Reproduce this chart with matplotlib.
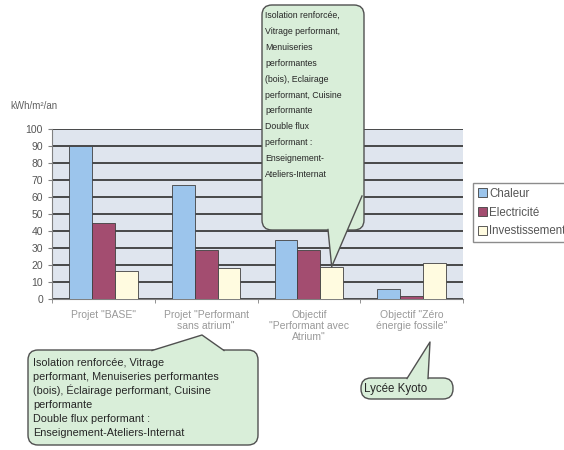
import numpy as np
import matplotlib
matplotlib.use("Agg")
import matplotlib.pyplot as plt
from matplotlib.patches import FancyBboxPatch, Polygon
from matplotlib.lines import Line2D
import matplotlib.transforms as mtransforms

plt.rcParams['font.family'] = ['Liberation Sans', 'DejaVu Sans']

# ---------------- data ----------------
categories = ['Projet "BASE"',
              'Projet "Performant\nsans atrium"',
              'Objectif\n"Performant avec\nAtrium"',
              'Objectif "Zéro\nénergie fossile"']
series_names = ['Chaleur', 'Electricité', 'Investissement']
chaleur = [90, 67, 35, 6]
electricite = [45, 29, 29, 1.5]
investissement = [16.5, 18, 19, 21]
yticks = list(range(0, 101, 10))

colors = ['#9cc5ec', '#a34d70', '#fffbe0']
callout_fc = '#d9eed9'
callout_ec = '#505050'

text_top = ["Isolation renforcée,", "Vitrage performant,", "Menuiseries", "performantes",
            "(bois), Eclairage", "performant, Cuisine", "performante", "Double flux",
            "performant :", "Enseignement-", "Ateliers-Internat"]
text_bottom = ["Isolation renforcée, Vitrage", "performant, Menuiseries performantes",
               "(bois), Éclairage performant, Cuisine", "performante",
               "Double flux performant :", "Enseignement-Ateliers-Internat"]
text_kyoto = ["Lycée Kyoto"]

W, H = 564, 450
fig = plt.figure(figsize=(W / 100, H / 100), dpi=100)
ax = fig.add_axes([52 / W, 1 - 299 / H, (463 - 52) / W, (299 - 129) / H])

# pixel transform (origin top-left, like the picture)
px = mtransforms.Affine2D().scale(1 / 100, -1 / 100).translate(0, H / 100) + fig.dpi_scale_trans

x = np.arange(len(categories))
bw = 0.222
for i, (vals, name) in enumerate(zip([chaleur, electricite, investissement], series_names)):
    ax.bar(x + (i - 1) * bw, vals, bw, color=colors[i], edgecolor='#404040',
           linewidth=0.6, label=name, zorder=3)

ax.set_facecolor('#dfe5ee')
ax.set_xlim(-0.5, 3.5)
ax.set_ylim(0, 100)
ax.set_yticks(yticks)
ax.yaxis.grid(True, color='#3c3c3c', linewidth=1.3, zorder=1)
ax.set_axisbelow(True)
for s in ['top', 'right']:
    ax.spines[s].set_visible(False)
ax.spines['left'].set_color('#808080')
ax.spines['bottom'].set_color('#808080')
ax.tick_params(axis='y', labelsize=7.5, labelcolor='#555555', color='#808080',
               length=3, direction='out')
ax.set_xticks(x)
ax.set_xticklabels(categories, fontsize=7.5, color='#999999', linespacing=1.1)
ax.set_xticks(np.arange(-0.5, 4, 1), minor=True)
ax.tick_params(axis='x', which='major', length=0, pad=8)
ax.tick_params(axis='x', which='minor', length=3, color='#808080')
fig.text(10 / W, 1 - 106 / H, 'kWh/m²/an', fontsize=7, color='#606060', va='center')

leg = fig.legend(loc='upper left', bbox_to_anchor=(473 / W, 1 - 183 / H), fontsize=8.3,
                 frameon=True, fancybox=False, edgecolor='#707070', handlelength=0.8,
                 handleheight=0.8, handletextpad=0.2, labelspacing=0.6, borderpad=0.4,
                 borderaxespad=0)
for t in leg.get_texts():
    t.set_color('#555555')


def callout(box, tail, lines, tx, ty, step, fs):
    x0, y0, x1, y1 = box
    patch = FancyBboxPatch((x0, y0), x1 - x0, y1 - y0,
                           boxstyle='round,pad=0,rounding_size=10',
                           transform=px, fc=callout_fc, ec=callout_ec, lw=1.0,
                           zorder=10, clip_on=False)
    fig.add_artist(patch)
    poly = Polygon(tail, closed=True, transform=px, fc=callout_fc, ec='none',
                   zorder=11, clip_on=False)
    fig.add_artist(poly)
    (ax_, ay_), (bx, by), (cx, cy) = tail[1], tail[2], tail[3]
    fig.add_artist(Line2D([ax_, bx, cx], [ay_, by, cy], transform=px, color=callout_ec,
                          lw=1.0, zorder=12))
    # one text per line, on its baseline, so accents do not shift the spacing
    for k, line in enumerate(lines):
        fig.text(tx, ty + k * step, line, transform=px, fontsize=fs, color='#262626',
                 va='baseline', ha='left', zorder=13)


# top callout, tail points at the top of the 3rd group's investissement bar
tip = ax.transData.transform((2 + bw, investissement[2]))
tip_px = px.inverted().transform(tip)
callout((262, 5, 364, 230),
        [(322, 225), (328, 229.5), tuple(tip_px), (362, 196), (360, 190)],
        text_top, 265, 18, 15.9, 6.3)

callout((28, 350, 258, 445),
        [(150, 355), (152, 350.5), (202, 335), (224, 350.5), (226, 355)],
        text_bottom, 33, 366, 14, 7.8)

callout((361, 378, 453, 399),
        [(405, 383), (407, 378.5), (430, 342), (428, 378.5), (430, 383)],
        text_kyoto, 364, 392, 0, 8.3)

fig.savefig('out.png', dpi=100)
